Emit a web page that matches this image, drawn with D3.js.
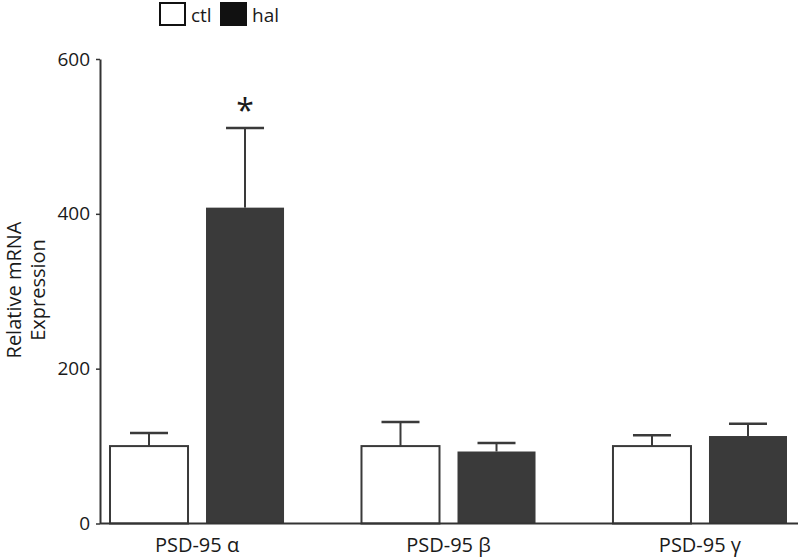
<!DOCTYPE html>
<html>
<head>
<meta charset="utf-8">
<script src="https://cdn.jsdelivr.net/npm/d3@7"></script>
<style>
  body { margin: 0; background: #fff; }
  svg text { font-family: "Open Sans", "Noto Sans", sans-serif; fill: #1a1a1a; }
</style>
</head>
<body>
<div id="chart"></div>
<script>
// values
const categories = ['PSD-95 α', 'PSD-95 β', 'PSD-95 γ'];
const groups = ['ctl', 'hal'];
const ctlMean = [100, 100, 100];
const ctlErr = [17, 31, 14];
const halMean = [408, 93, 113];
const halErr = [103, 11, 16];
const yTicks = [0, 200, 400, 600];

const width = 800, height = 558;
const fills = { ctl: '#ffffff', hal: '#3a3a3a' };

let rows = categories.map(function(c, i) {
  return [
    { cat: c, grp: 'ctl', mean: ctlMean[i], err: ctlErr[i] },
    { cat: c, grp: 'hal', mean: halMean[i], err: halErr[i] }
  ];
});

let svg = d3.select('#chart').append('svg')
  .attr('width', width)
  .attr('height', height);

let y = d3.scaleLinear().domain([0, 600]).range([523.5, 59]);

let x0 = d3.scaleBand()
  .domain(categories)
  .range([110, 787])
  .paddingInner(0.308)
  .paddingOuter(0);

let x1 = d3.scaleBand()
  .domain(groups)
  .range([0, x0.bandwidth()])
  .paddingInner(0.1875)
  .paddingOuter(0);

// y axis
let yAxis = svg.append('g')
  .attr('transform', 'translate(100,0)')
  .call(d3.axisLeft(y).tickValues(yTicks).tickSize(4).tickSizeOuter(0).tickPadding(6));
yAxis.attr('font-size', null).attr('font-family', null);
yAxis.select('.domain').attr('stroke', '#333').attr('stroke-width', 2);
yAxis.selectAll('.tick line').attr('stroke', '#333').attr('stroke-width', 1.5);
yAxis.selectAll('.tick text')
  .style('font-size', '19px')
  .attr('fill', '#1a1a1a');

// bars
let g = svg.append('g').selectAll('.grp')
  .data(rows)
  .enter().append('g')
  .attr('class', 'grp')
  .attr('transform', function(d) { return 'translate(' + x0(d[0].cat) + ',0)'; });

let bar = g.selectAll('.bar')
  .data(function(d) { return d; })
  .enter().append('g')
  .attr('class', 'bar');

// error bars (upper only)
bar.append('line')
  .attr('x1', function(d) { return x1(d.grp) + x1.bandwidth() / 2; })
  .attr('x2', function(d) { return x1(d.grp) + x1.bandwidth() / 2; })
  .attr('y1', function(d) { return y(d.mean); })
  .attr('y2', function(d) { return y(d.mean + d.err); })
  .attr('stroke', '#3a3a3a')
  .attr('stroke-width', 2);

bar.append('line')
  .attr('x1', function(d) { return x1(d.grp) + x1.bandwidth() / 2 - 19; })
  .attr('x2', function(d) { return x1(d.grp) + x1.bandwidth() / 2 + 19; })
  .attr('y1', function(d) { return y(d.mean + d.err); })
  .attr('y2', function(d) { return y(d.mean + d.err); })
  .attr('stroke', '#3a3a3a')
  .attr('stroke-width', 2.5);

bar.append('rect')
  .attr('x', function(d) { return x1(d.grp); })
  .attr('y', function(d) { return y(d.mean); })
  .attr('width', x1.bandwidth())
  .attr('height', function(d) { return y(0) - y(d.mean); })
  .attr('fill', function(d) { return fills[d.grp]; })
  .attr('stroke', function(d) { return d.grp === 'ctl' ? '#3a3a3a' : 'none'; })
  .attr('stroke-width', 2);

// x baseline
svg.append('line')
  .attr('x1', 100).attr('x2', 798)
  .attr('y1', y(0)).attr('y2', y(0))
  .attr('stroke', '#333')
  .attr('stroke-width', 2);

// category labels
svg.append('g').selectAll('text')
  .data(categories)
  .enter().append('text')
  .attr('x', function(d) { return x0(d) + x0.bandwidth() / 2; })
  .attr('y', 552)
  .attr('text-anchor', 'middle')
  .style('font-size', '20px')
  .text(function(d) { return d; });

// significance marker
svg.append('text')
  .attr('x', x0(categories[0]) + x1('hal') + x1.bandwidth() / 2)
  .attr('y', y(halMean[0] + halErr[0]) - 6)
  .attr('text-anchor', 'middle')
  .style('font-size', '32px')
  .text('*');

// y label
let yl = svg.append('text')
  .attr('transform', 'translate(21,290) rotate(-90)')
  .attr('text-anchor', 'middle')
  .style('font-size', '20px');
yl.append('tspan').attr('x', 0).attr('dy', 0).text('Relative mRNA');
yl.append('tspan').attr('x', 0).attr('dy', 24).text('Expression');

// legend
let leg = svg.append('g').selectAll('.leg')
  .data(groups)
  .enter().append('g')
  .attr('class', 'leg')
  .attr('transform', function(d, i) { return 'translate(' + (160 + i * 61) + ',3)'; });
leg.append('rect')
  .attr('width', 25).attr('height', 22)
  .attr('fill', function(d) { return d === 'ctl' ? '#fff' : '#111'; })
  .attr('stroke', '#111')
  .attr('stroke-width', 2);
leg.append('text')
  .attr('x', 31).attr('y', 19)
  .style('font-size', '19px')
  .text(function(d) { return d; });
</script>
</body>
</html>
